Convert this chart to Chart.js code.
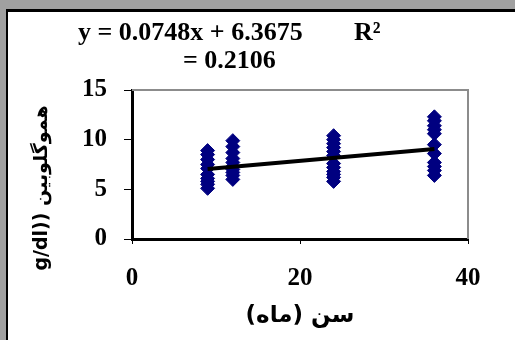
<!DOCTYPE html>
<html lang="fa">
<head>
  <meta charset="UTF-8">
  <title>هموگلوبین و سن</title>
  <script src="https://cdn.jsdelivr.net/npm/chart.js"></script>
  <style>
    body { margin: 0; background: #a0a0a0; overflow: hidden; }
    #frame { position: absolute; left: 6px; top: 9px; width: 620px; height: 420px; background: #fff; border-left: 2px solid #000; border-top: 3px solid #000; }
    #chart { position: absolute; left: 0; top: 0; }
  </style>
</head>
<body>
  <div id="frame">
    <canvas id="chart" width="507" height="328"></canvas>
  </div>
  <script>
    // سن (ماه) و مقادیر هموگلوبین هر گروه
    const ageMonths = [9, 12, 24, 36];
    const hb9  = [8.9, 8.5, 8.0, 7.5, 7.1, 6.5, 6.1, 5.8, 5.5, 5.1];
    const hb12 = [9.9, 9.3, 8.7, 8.1, 7.7, 7.3, 7.0, 6.7, 6.4, 6.0];
    const hb24 = [10.4, 10.0, 9.6, 9.2, 8.8, 8.4, 7.6, 7.2, 6.8, 6.5, 6.2, 5.8];
    const hb36 = [12.3, 11.9, 11.4, 11.0, 10.6, 9.5, 8.6, 7.7, 7.3, 6.9, 6.4];
    const hbGroups = [hb9, hb12, hb24, hb36];

    // خط روند
    const trendX = [9, 36];
    const trendY = [7.04, 9.06];

    const xTicks = [0, 20, 40];
    const yTicks = [0, 5, 10, 15];

    const eqText = 'y = 0.0748x + 6.3675';
    const r2Label = 'R²';
    const r2Text = '= 0.2106';
    const xTitle = 'سن (ماه)\u200F';
    const yTitle = 'g/dl)) هموگلوبین';

    const points = [];
    ageMonths.forEach((age, i) => {
      hbGroups[i].forEach(v => points.push({ x: age, y: v }));
    });
    const trendPoints = trendX.map((x, i) => ({ x: x, y: trendY[i] }));

    const serif = '"Liberation Serif", "Times New Roman", serif';

    const extraText = {
      id: 'extraText',
      beforeDatasetsDraw(chart) {
        const { ctx, chartArea: a } = chart;
        ctx.save();
        ctx.strokeStyle = '#8c8c8c';
        ctx.lineWidth = 2;
        ctx.beginPath();
        ctx.moveTo(a.left, a.top);
        ctx.lineTo(a.right, a.top);
        ctx.lineTo(a.right, a.bottom);
        ctx.stroke();
        ctx.restore();
      },
      afterDraw(chart) {
        const { ctx, chartArea: a } = chart;
        ctx.save();
        ctx.fillStyle = '#000';
        ctx.font = 'bold 26px ' + serif;
        ctx.textAlign = 'left';
        ctx.textBaseline = 'alphabetic';
        ctx.fillText(eqText, a.left - 54, 28);
        ctx.fillText(r2Label, a.left + 222, 28);
        ctx.fillText(r2Text, a.left + 51, 56);

        ctx.translate(34, a.top + 98);
        ctx.rotate(-Math.PI / 2);
        ctx.font = 'bold 19px "DejaVu Sans"';
        ctx.textAlign = 'center';
        ctx.textBaseline = 'middle';
        ctx.fillText(yTitle, 0, 0);
        ctx.restore();
      }
    };

    new Chart(document.getElementById('chart'), {
      type: 'scatter',
      data: {
        datasets: [
          {
            type: 'line',
            data: trendPoints,
            borderColor: '#000',
            borderWidth: 4,
            pointRadius: 0,
            fill: false,
            order: 0
          },
          {
            data: points,
            backgroundColor: '#000080',
            borderColor: '#000080',
            borderWidth: 1,
            pointStyle: 'rectRot',
            pointRadius: 7,
            order: 1
          }
        ]
      },
      options: {
        responsive: false,
        animation: false,
        layout: { padding: { top: 78, right: 47, left: 0, bottom: 0 } },
        plugins: {
          legend: { display: false },
          tooltip: { enabled: false }
        },
        scales: {
          x: {
            type: 'linear',
            min: 0, max: 40,
            afterFit: s => { s.height = 101; },
            afterBuildTicks: s => { s.ticks = xTicks.map(v => ({ value: v })); },
            grid: { drawOnChartArea: false, drawTicks: true, tickLength: 5, color: '#000', lineWidth: 1 },
            border: { color: '#000', width: 3 },
            ticks: { color: '#000', padding: 20, font: { family: serif, size: 25, weight: 'bold' } },
            title: {
              display: true, text: xTitle, color: '#000',
              padding: { top: 0, bottom: 10 },
              font: { family: '"DejaVu Sans"', size: 23, weight: 'bold' }
            }
          },
          y: {
            min: 0, max: 15,
            afterFit: s => { s.width = 124; },
            afterBuildTicks: s => { s.ticks = yTicks.map(v => ({ value: v })); },
            grid: { drawOnChartArea: false, drawTicks: true, tickLength: 8, color: '#000', lineWidth: 1 },
            border: { color: '#000', width: 3 },
            ticks: { color: '#000', padding: 17, font: { family: serif, size: 25, weight: 'bold' } }
          }
        }
      },
      plugins: [extraText]
    });
  </script>
</body>
</html>
